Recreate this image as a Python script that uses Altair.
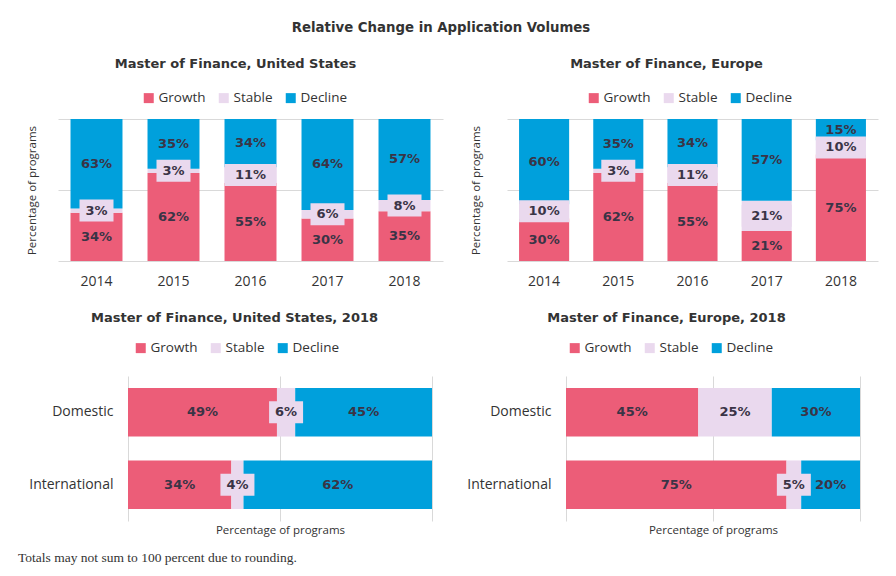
import altair as alt
import pandas as pd

# ---------------- data ----------------
statuses = ["Growth", "Stable", "Decline"]
colors = ["#EC5D78", "#EAD9EE", "#00A0DC"]

years = ["2014", "2015", "2016", "2017", "2018"]
us_growth = [34, 62, 55, 30, 35]
us_stable = [3, 3, 11, 6, 8]
us_decline = [63, 35, 34, 64, 57]

eu_growth = [30, 62, 55, 21, 75]
eu_stable = [10, 3, 11, 21, 10]
eu_decline = [60, 35, 34, 57, 15]

groups = ["Domestic", "International"]
us18_growth = [49, 34]
us18_stable = [6, 4]
us18_decline = [45, 62]

eu18_growth = [45, 75]
eu18_stable = [25, 5]
eu18_decline = [30, 20]

main_title = "Relative Change in Application Volumes"
footnote = ["Totals may not sum to 100 percent due to rounding."]
axis_title = "Percentage of programs"

TEXT = "#333333"
LABEL = "#3a3446"
GRID = "#d9d9d9"
TFONT = "DejaVu Sans"
AFONT = "Open Sans"


def build(cats, growth, stable, decline):
    rows = []
    for i, c in enumerate(cats):
        vals = [growth[i], stable[i], decline[i]]
        total = float(sum(vals))
        acc = 0.0
        for k, (s, v) in enumerate(zip(statuses, vals)):
            rows.append(dict(cat=c, status=s, order=k, value=v, label=f"{v}%",
                             start=acc / total, end=(acc + v) / total,
                             mid=(acc + v / 2.0) / total))
            acc += v
    return pd.DataFrame(rows)


def legend(lx, ly):
    return alt.Legend(orient="none", legendX=lx, legendY=ly, direction="horizontal",
                      title=None, symbolType="square", symbolSize=100,
                      symbolStrokeWidth=0, labelFont=AFONT, labelFontSize=13.5,
                      labelColor=TEXT, labelOffset=3, columnPadding=11)


def ptitle(text, offset, dx):
    return alt.TitleParams(text, font=TFONT, fontSize=13, fontWeight="bold",
                           color=TEXT, anchor="middle", frame="group",
                           offset=offset, dx=dx)


def vertical_panel(df, title, width, lx, tpad, tdx):
    xenc = alt.X("cat:N", sort=years,
                 scale=alt.Scale(paddingInner=0.325, paddingOuter=0.1625),
                 axis=alt.Axis(title=None, labelAngle=0, domain=False, ticks=False,
                               labelPadding=13, labelFont=AFONT, labelFontSize=14,
                               labelColor=TEXT))

    def yenc(field):
        return alt.Y(field, scale=alt.Scale(domain=[0, 1], nice=False),
                     axis=alt.Axis(title=axis_title, labels=False, ticks=False,
                                   domain=False, values=[0, 0.5, 1], gridColor=GRID,
                                   titleFont=AFONT, titleFontSize=11.5,
                                   titleFontWeight="normal", titleColor=TEXT,
                                   titlePadding=tpad))

    base = alt.Chart(df)
    bars = base.mark_bar().encode(
        x=xenc, y=yenc("start:Q"), y2="end:Q",
        color=alt.Color("status:N", scale=alt.Scale(domain=statuses, range=colors),
                        legend=legend(lx, -28)),
        order="order:Q",
    )
    box_small = base.transform_filter(
        "datum.status == 'Stable' && datum.value < 10"
    ).mark_bar(size=34, yOffset=-11, y2Offset=11, color=colors[1]).encode(
        x=xenc, y=yenc("mid:Q"), y2="mid:Q")
    box_wide = base.transform_filter(
        "datum.status == 'Stable' && datum.value >= 10"
    ).mark_bar(yOffset=-11, y2Offset=11, color=colors[1]).encode(
        x=xenc, y=yenc("mid:Q"), y2="mid:Q")
    text = base.mark_text(font=TFONT, fontSize=13, fontWeight="bold", color=LABEL).encode(
        x=xenc, y=yenc("mid:Q"), text="label:N")
    return alt.layer(bars, box_small, box_wide, text).properties(
        width=width, height=142, title=ptitle(title, 20, tdx))


def horizontal_panel(df, title, width, domain, lx, lpad, title_x, tdx, note=None):
    yenc = alt.Y("cat:N", sort=groups,
                 scale=alt.Scale(paddingInner=0.33, paddingOuter=0.165),
                 axis=alt.Axis(title=None, domain=False, ticks=False, grid=False,
                               labelPadding=lpad, labelFont=AFONT, labelFontSize=14,
                               labelColor=TEXT))

    def xenc(field):
        return alt.X(field, scale=alt.Scale(domain=domain, nice=False, zero=False),
                     axis=alt.Axis(title=axis_title, labels=False, ticks=False,
                                   domain=False, values=[0, 0.5, 1], gridColor=GRID,
                                   titleFont=AFONT, titleFontSize=11.5,
                                   titleFontWeight="normal", titleColor=TEXT,
                                   titlePadding=3, titleX=title_x))

    base = alt.Chart(df)
    bars = base.mark_bar().encode(
        y=yenc, x=xenc("start:Q"), x2="end:Q",
        color=alt.Color("status:N", scale=alt.Scale(domain=statuses, range=colors),
                        legend=legend(lx, -35)),
        order="order:Q",
    )
    box = base.transform_filter("datum.status == 'Stable'").mark_bar(
        size=22, xOffset=-17, x2Offset=17, color=colors[1]).encode(
        y=yenc, x=xenc("mid:Q"), x2="mid:Q")
    text = base.mark_text(font=TFONT, fontSize=13, fontWeight="bold", color=LABEL).encode(
        y=yenc, x=xenc("mid:Q"), text="label:N")
    layers = [bars, box, text]
    if note is not None:
        layers.append(
            alt.Chart(pd.DataFrame({"note": note})).mark_text(
                font="Liberation Serif", fontSize=13.5, color=TEXT, align="left",
                baseline="middle").encode(
                x=alt.value(-40), y=alt.value(182), text="note:N"))
    return alt.layer(*layers).properties(
        width=width, height=145, title=ptitle(title, 16, tdx))


tl = vertical_panel(build(years, us_growth, us_stable, us_decline),
                    "Master of Finance, United States", 385, 84, 21, -15)
tr = vertical_panel(build(years, eu_growth, eu_stable, eu_decline),
                    "Master of Finance, Europe", 371, 80, 26, -26)
bl = horizontal_panel(build(groups, us18_growth, us18_stable, us18_decline),
                      "Master of Finance, United States, 2018", 385,
                      [-70 / 304, 1 + 11 / 304], 76, -55, 222, -16, note=footnote)
br = horizontal_panel(build(groups, eu18_growth, eu18_stable, eu18_decline),
                      "Master of Finance, Europe, 2018", 371,
                      [-59 / 294, 1 + 18 / 294], 61, -44, 206, -26)

chart = alt.concat(
    tl, tr, bl, br, columns=2,
    spacing={"row": 24, "column": 23},
).resolve_scale(color="independent").properties(
    title=alt.TitleParams(main_title, font=TFONT, fontSize=13.3, fontWeight="bold",
                          color=TEXT, anchor="middle", offset=24, dx=-7),
    padding={"left": 18, "top": 20, "right": 10, "bottom": 5},
    background="white",
).configure_view(stroke=None)

chart.save("out.html", embed_options={"renderer": "svg", "actions": False})
